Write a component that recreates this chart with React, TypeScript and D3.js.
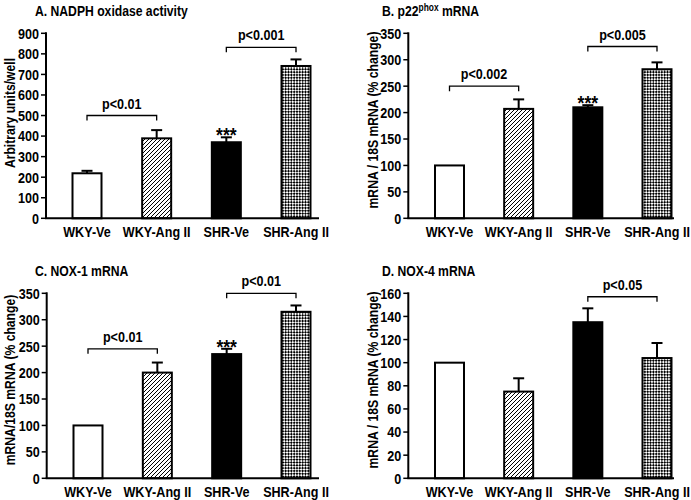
import React from "react";
import * as d3 from "d3";

const categories = ["WKY-Ve", "WKY-Ang II", "SHR-Ve", "SHR-Ang II"];
const fills = ["white", "url(#hatch)", "black", "url(#check)"];

const nadphMeans = [219, 389, 370, 741];
const nadphErr = [12, 40, 24, 32];
const nadphTicks = [0, 100, 200, 300, 400, 500, 600, 700, 800, 900];

const p22Means = [100, 207, 210, 282];
const p22Err = [0, 18, 4, 13];
const p22Ticks = [0, 50, 100, 150, 200, 250, 300, 350];

const nox1Means = [100, 200, 235, 315];
const nox1Err = [0, 19, 10, 12];
const nox1Ticks = [0, 50, 100, 150, 200, 250, 300, 350];

const nox4Means = [100, 75, 135, 104];
const nox4Err = [0, 11.5, 12, 13];
const nox4Ticks = [0, 20, 40, 60, 80, 100, 120, 140, 160];

const nadphBrackets = [
  { from: 0, to: 1, y: 500, label: "p<0.01" },
  { from: 2, to: 3, y: 832, label: "p<0.001" },
];
const p22Brackets = [
  { from: 0, to: 1, y: 250, label: "p<0.002" },
  { from: 2, to: 3, y: 325, label: "p<0.005" },
];
const nox1Brackets = [
  { from: 0, to: 1, y: 245, label: "p<0.01" },
  { from: 2, to: 3, y: 350, label: "p<0.01" },
];
const nox4Brackets = [{ from: 2, to: 3, y: 157, label: "p<0.05" }];

const FONT = "'Liberation Sans', Arial, sans-serif";
const SQ = 0.84;

type Bracket = { from: number; to: number; y: number; label: string };

function NText(props: {
  x: number;
  y: number;
  size: number;
  anchor?: string;
  rotate?: boolean;
  dy?: string;
  children: React.ReactNode;
}) {
  const t = `translate(${props.x},${props.y})${props.rotate ? " rotate(-90)" : ""} scale(${SQ},1)`;
  return (
    <text
      transform={t}
      dy={props.dy}
      textAnchor={props.anchor || "start"}
      fontSize={props.size}
      fontWeight="bold"
      fontFamily={FONT}
    >
      {props.children}
    </text>
  );
}

function Panel(props: {
  title: React.ReactNode;
  titleX: number;
  titleY: number;
  yLabel: string;
  yLabelX: number;
  yLabelY: number;
  axisX: number;
  xEnd: number;
  firstC: number;
  lastC: number;
  yTop: number;
  yBottom: number;
  max: number;
  ticks: number[];
  means: number[];
  errs: number[];
  brackets: Bracket[];
  starIdx: number | null;
}) {
  const p = props;
  const x = d3.scalePoint<string>().domain(categories).range([p.firstC, p.lastC]);
  const y = d3.scaleLinear().domain([0, p.max]).range([p.yBottom, p.yTop]);
  const bw = 29;
  return (
    <g>
      <NText x={p.titleX} y={p.titleY} size={14.5}>
        {p.title}
      </NText>
      <NText x={p.yLabelX} y={p.yLabelY} size={14.5} anchor="middle" rotate>
        {p.yLabel}
      </NText>
      {p.ticks.map((t) => (
        <g key={t}>
          <line x1={p.axisX - 5} x2={p.axisX} y1={y(t)} y2={y(t)} stroke="black" strokeWidth={1.5} />
          <NText x={p.axisX - 7} y={y(t)} dy="0.36em" anchor="end" size={15}>
            {t}
          </NText>
        </g>
      ))}
      {categories.map((c, i) => {
        const cx = x(c)!;
        const top = y(p.means[i]);
        const et = y(p.means[i] + p.errs[i]);
        return (
          <g key={c}>
            {p.errs[i] > 0 && (
              <g>
                <line x1={cx} x2={cx} y1={top} y2={et} stroke="black" strokeWidth={2} />
                <line x1={cx - 5.5} x2={cx + 5.5} y1={et} y2={et} stroke="black" strokeWidth={2} />
              </g>
            )}
            <rect
              x={cx - bw / 2}
              y={top}
              width={bw}
              height={p.yBottom - top}
              fill={fills[i]}
              stroke="black"
              strokeWidth={2}
            />
            <NText x={cx} y={p.yBottom + 19} anchor="middle" size={15}>
              {c}
            </NText>
            {p.starIdx === i && (
              <NText x={cx} y={et + 5} anchor="middle" size={21}>
                ***
              </NText>
            )}
          </g>
        );
      })}
      <line x1={p.axisX} x2={p.axisX} y1={p.yTop - 1} y2={p.yBottom} stroke="black" strokeWidth={2} />
      <line x1={p.axisX - 1} x2={p.xEnd} y1={p.yBottom} y2={p.yBottom} stroke="black" strokeWidth={2} />
      {p.brackets.map((b, k) => {
        const x1 = x(categories[b.from])!;
        const x2 = x(categories[b.to])!;
        const by = y(b.y);
        return (
          <g key={k}>
            <path
              d={`M${x1},${by + 5}V${by}H${x2}V${by + 5}`}
              fill="none"
              stroke="black"
              strokeWidth={1.3}
            />
            <NText x={(x1 + x2) / 2} y={by - 7} anchor="middle" size={15}>
              {b.label}
            </NText>
          </g>
        );
      })}
    </g>
  );
}

export default function App() {
  return (
    <div style={{ position: "absolute", left: 0, top: 0 }}>
      <svg width={691} height={500} style={{ display: "block", background: "white" }}>
        <defs>
          <pattern id="hatch" patternUnits="userSpaceOnUse" width={4} height={4}>
            <rect width={4} height={4} fill="white" />
            <path d="M-1,1 l2,-2 M0,4 l4,-4 M3,5 l2,-2" stroke="black" strokeWidth={1} />
          </pattern>
          <pattern
            id="check"
            patternUnits="userSpaceOnUse"
            width={4}
            height={4}
            patternTransform="rotate(45)"
          >
            <rect width={4} height={4} fill="white" />
            <rect width={2} height={2} fill="black" />
            <rect x={2} y={2} width={2} height={2} fill="black" />
          </pattern>
        </defs>
        <Panel
          title="A. NADPH oxidase activity"
          titleX={35}
          titleY={16}
          yLabel="Arbitrary units/well"
          yLabelX={15}
          yLabelY={113}
          axisX={46}
          xEnd={319}
          firstC={87}
          lastC={296}
          yTop={33.3}
          yBottom={218.3}
          max={900}
          ticks={nadphTicks}
          means={nadphMeans}
          errs={nadphErr}
          brackets={nadphBrackets}
          starIdx={2}
        />
        <Panel
          title={
            <>
              B. p22
              <tspan dy={-5} fontSize={10}>
                phox
              </tspan>
              <tspan dy={5}> mRNA</tspan>
            </>
          }
          titleX={382}
          titleY={16}
          yLabel="mRNA / 18S mRNA (% change)"
          yLabelX={378}
          yLabelY={120}
          axisX={408.3}
          xEnd={674}
          firstC={449.5}
          lastC={657}
          yTop={33.3}
          yBottom={218.3}
          max={350}
          ticks={p22Ticks}
          means={p22Means}
          errs={p22Err}
          brackets={p22Brackets}
          starIdx={2}
        />
        <Panel
          title="C. NOX-1 mRNA"
          titleX={35}
          titleY={276}
          yLabel="mRNA/18S mRNA (% change)"
          yLabelX={15}
          yLabelY={380}
          axisX={46.7}
          xEnd={319}
          firstC={88}
          lastC={296}
          yTop={293.3}
          yBottom={478.3}
          max={350}
          ticks={nox1Ticks}
          means={nox1Means}
          errs={nox1Err}
          brackets={nox1Brackets}
          starIdx={2}
        />
        <Panel
          title="D. NOX-4 mRNA"
          titleX={382}
          titleY={276}
          yLabel="mRNA / 18S mRNA (% change)"
          yLabelX={378}
          yLabelY={380}
          axisX={408.3}
          xEnd={674}
          firstC={449.5}
          lastC={657}
          yTop={293.3}
          yBottom={478.3}
          max={160}
          ticks={nox4Ticks}
          means={nox4Means}
          errs={nox4Err}
          brackets={nox4Brackets}
          starIdx={null}
        />
      </svg>
    </div>
  );
}
